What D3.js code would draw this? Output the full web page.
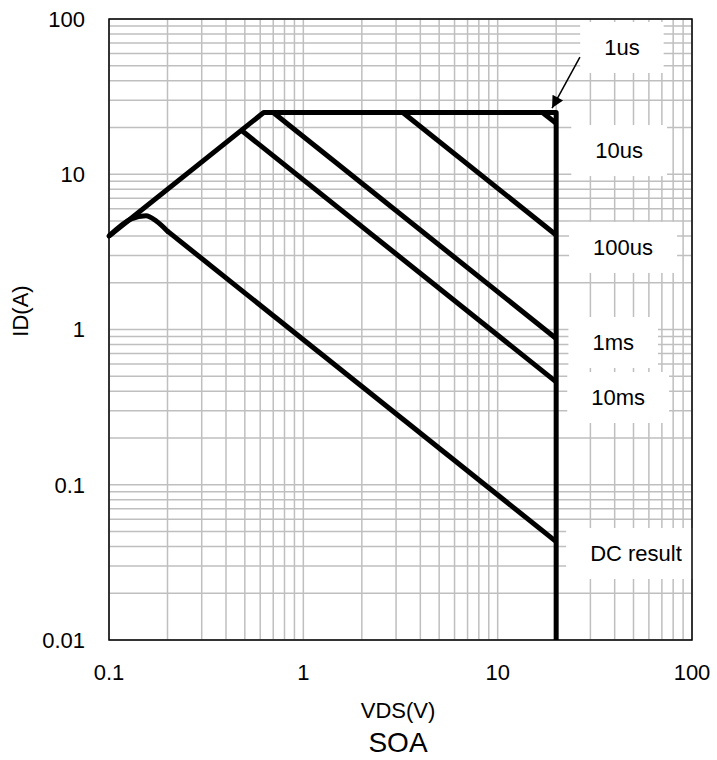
<!DOCTYPE html>
<html lang="en">
<head>
    <meta charset="UTF-8">
    <title>SOA</title>
    <style>
        body {
            margin: 0;
            padding: 0;
            background: #fff;
            font-family: "Liberation Sans", Arial, sans-serif;
        }
    </style>
</head>
<body>
    <svg id="chart"></svg>
    <script src="https://d3js.org/d3.v7.min.js"></script>
    <script>
        // Boundary of the safe operating area (Rds(on) limit, current limit, voltage limit)
        const envelopeV = [0.1, 0.625, 20, 20];
        const envelopeI = [4, 25, 25, 0.01];

        // Pulse lines
        const us1V = [17, 20];
        const us1I = [25, 21.3];
        const us10V = [3.25, 20];
        const us10I = [25, 4.06];
        const us100V = [0.7, 20];
        const us100I = [25, 0.875];
        const ms1V = [0.48, 20];
        const ms1I = [19.2, 0.46];
        // DC: rounded knee near 0.15 V, then straight constant-power line
        const dcKneeV = [0.1, 0.13, 0.155, 0.175, 0.2];
        const dcKneeI = [4, 5.15, 5.4, 5.0, 4.3];
        const dcV = [0.2, 20];
        const dcI = [4.3, 0.043];

        // Text boxes on the right
        const labelText = ["1us", "10us", "100us", "1ms", "10ms", "DC result"];
        const labelV = [43.6, 42.2, 44.2, 39.3, 41.7, 51.5];
        const labelI = [66, 14.3, 3.4, 0.83, 0.367, 0.0363];

        // Arrow from "1us" to the corner
        const arrowV = [26.5, 19.05];
        const arrowI = [56.9, 26.7];

        const xTickLabels = ["0.1", "1", "10", "100"];
        const yTickLabels = ["0.01", "0.1", "1", "10", "100"];

        const width = 717;
        const height = 760;
        const plotL = 109, plotR = 692, plotT = 19, plotB = 640;

        const svg = d3.select("#chart")
            .attr("width", width)
            .attr("height", height);

        const x = d3.scaleLog().domain([0.1, 100]).range([plotL, plotR]);
        const y = d3.scaleLog().domain([0.01, 100]).range([plotB, plotT]);

        const grid = svg.append("g")
            .attr("stroke", "#bfbfbf")
            .attr("stroke-width", 1.5);

        grid.selectAll(".vx")
            .data(x.ticks())
            .enter().append("line")
            .attr("x1", d => x(d)).attr("x2", d => x(d))
            .attr("y1", plotT).attr("y2", plotB);

        grid.selectAll(".hy")
            .data(y.ticks())
            .enter().append("line")
            .attr("y1", d => y(d)).attr("y2", d => y(d))
            .attr("x1", plotL).attr("x2", plotR);

        // white text boxes hide the grid behind them
        const labels = svg.append("g")
            .style("font-size", "22px")
            .attr("fill", "#000");

        const lab = labels.selectAll("g")
            .data(labelText)
            .enter().append("g");

        lab.append("rect").attr("fill", "#fff");
        lab.append("text")
            .attr("x", (d, i) => x(labelV[i]))
            .attr("y", (d, i) => y(labelI[i]))
            .attr("text-anchor", "middle")
            .attr("dy", "0.36em")
            .text(d => d);

        lab.each(function () {
            const g = d3.select(this);
            const b = g.select("text").node().getBBox();
            g.select("rect")
                .attr("x", b.x - 24)
                .attr("y", b.y - 13)
                .attr("width", b.width + 48)
                .attr("height", b.height + 26);
        });

        // border
        svg.append("rect")
            .attr("x", plotL).attr("y", plotT)
            .attr("width", plotR - plotL).attr("height", plotB - plotT)
            .attr("fill", "none")
            .attr("stroke", "#000")
            .attr("stroke-width", 1.5);

        const line = d3.line()
            .x(d => x(d[0]))
            .y(d => y(d[1]));

        const zip = (a, b) => a.map((v, i) => [v, b[i]]);

        const curves = svg.append("g")
            .attr("fill", "none")
            .attr("stroke", "#000")
            .attr("stroke-width", 5)
            .attr("stroke-linejoin", "round")
            .attr("stroke-linecap", "butt");

        [zip(envelopeV, envelopeI), zip(us1V, us1I), zip(us10V, us10I),
         zip(us100V, us100I), zip(ms1V, ms1I), zip(dcV, dcI)].forEach(pts => {
            curves.append("path").attr("d", line(pts));
        });

        curves.append("path")
            .attr("stroke-linecap", "round")
            .attr("d", d3.line()
                .x(d => x(d[0]))
                .y(d => y(d[1]))
                .curve(d3.curveMonotoneX)(zip(dcKneeV, dcKneeI)));

        // arrow
        svg.append("defs").append("marker")
            .attr("id", "head")
            .attr("viewBox", "0 0 10 10")
            .attr("refX", 10).attr("refY", 5)
            .attr("markerWidth", 17).attr("markerHeight", 12)
            .attr("markerUnits", "userSpaceOnUse")
            .attr("orient", "auto")
            .append("path")
            .attr("d", "M0,0L10,5L0,10Z")
            .attr("fill", "#000");

        svg.append("line")
            .attr("x1", x(arrowV[0])).attr("y1", y(arrowI[0]))
            .attr("x2", x(arrowV[1])).attr("y2", y(arrowI[1]))
            .attr("stroke", "#000")
            .attr("stroke-width", 1.5)
            .attr("marker-end", "url(#head)");

        // tick labels
        const xt = svg.append("g").style("font-size", "22px").attr("text-anchor", "middle");
        xt.selectAll("text")
            .data(xTickLabels)
            .enter().append("text")
            .attr("x", d => x(+d))
            .attr("y", 680)
            .text(d => d);

        const yt = svg.append("g").style("font-size", "22px").attr("text-anchor", "end");
        yt.selectAll("text")
            .data(yTickLabels)
            .enter().append("text")
            .attr("x", plotL - 24)
            .attr("y", d => y(+d))
            .attr("dy", "0.36em")
            .text(d => d);

        svg.append("text")
            .attr("x", 398).attr("y", 718)
            .attr("text-anchor", "middle")
            .style("font-size", "22px")
            .text("VDS(V)");

        svg.append("text")
            .attr("x", 398).attr("y", 752)
            .attr("text-anchor", "middle")
            .style("font-size", "28px")
            .text("SOA");

        svg.append("text")
            .attr("transform", "translate(28,311) rotate(-90)")
            .attr("text-anchor", "middle")
            .style("font-size", "22px")
            .text("ID(A)");
    </script>
</body>
</html>
